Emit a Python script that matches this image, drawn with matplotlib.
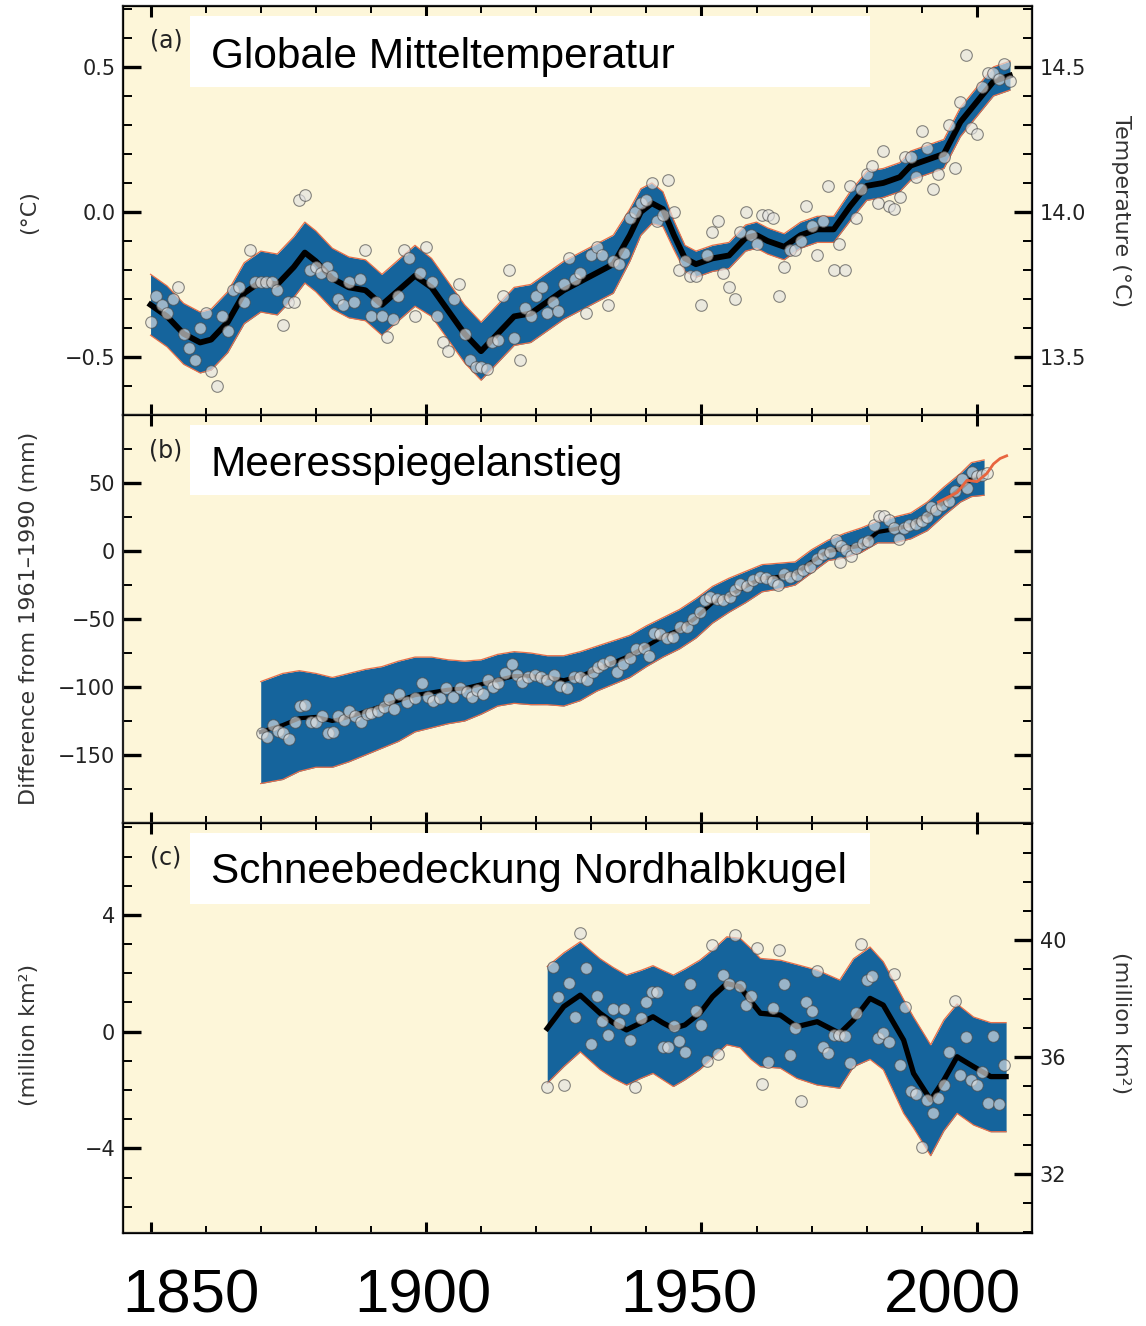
import numpy as np
import matplotlib
matplotlib.use('Agg')
import matplotlib.pyplot as plt
from matplotlib.ticker import MultipleLocator
from matplotlib.patches import Rectangle

plt.rcParams['font.family'] = ['DejaVu Sans']
plt.rcParams['axes.unicode_minus'] = True

# ---------------- (a) Globale Mitteltemperatur ----------------
temp_years = np.arange(1850, 2007)
temp_vals = [
    -0.38, -0.29, -0.32, -0.35, -0.30, -0.26, -0.42, -0.47, -0.51, -0.40,
    -0.35, -0.55, -0.60, -0.36, -0.41, -0.27, -0.26, -0.31, -0.13, -0.24,
    -0.24, -0.24, -0.24, -0.27, -0.39, -0.31, -0.31, 0.04, 0.06, -0.20,
    -0.19, -0.21, -0.19, -0.22, -0.30, -0.32, -0.24, -0.31, -0.23, -0.13,
    -0.36, -0.31, -0.36, -0.43, -0.37, -0.29, -0.13, -0.16, -0.36, -0.21,
    -0.12, -0.24, -0.36, -0.45, -0.48, -0.30, -0.25, -0.42, -0.51, -0.535,
    -0.535, -0.54, -0.45, -0.44, -0.29, -0.20, -0.435, -0.51, -0.33, -0.36,
    -0.29, -0.26, -0.35, -0.31, -0.34, -0.25, -0.16, -0.23, -0.21, -0.35,
    -0.15, -0.12, -0.15, -0.32, -0.17, -0.18, -0.14, -0.02, 0.00, 0.03,
    0.04, 0.10, -0.03, -0.01, 0.11, 0.00, -0.20, -0.17, -0.22, -0.22,
    -0.32, -0.15, -0.07, -0.03, -0.21, -0.26, -0.30, -0.07, 0.00, -0.08,
    -0.11, -0.01, -0.01, -0.02, -0.29, -0.19, -0.13, -0.13, -0.10, 0.02,
    -0.05, -0.15, -0.03, 0.09, -0.20, -0.11, -0.20, 0.09, -0.02, 0.08,
    0.13, 0.16, 0.03, 0.21, 0.02, 0.01, 0.05, 0.19, 0.19, 0.12,
    0.28, 0.22, 0.08, 0.13, 0.19, 0.30, 0.15, 0.38, 0.54, 0.29,
    0.27, 0.43, 0.48, 0.48, 0.46, 0.51, 0.45,
]
temp_smooth_years = [1850, 1853, 1856, 1859, 1861, 1864, 1867, 1870, 1873, 1876,
                     1878, 1880, 1883, 1886, 1889, 1892, 1895, 1898, 1901, 1904,
                     1907, 1910, 1913, 1916, 1919, 1922, 1925, 1928, 1931, 1934,
                     1937, 1939, 1941, 1943, 1945, 1947, 1949, 1952, 1955, 1958,
                     1960, 1962, 1965, 1968, 1971, 1974, 1977, 1980, 1983, 1986,
                     1988, 1991, 1994, 1997, 2000, 2003, 2006]
temp_smooth = [-0.32, -0.36, -0.42, -0.45, -0.44, -0.38, -0.28, -0.24, -0.25, -0.19,
               -0.14, -0.17, -0.23, -0.26, -0.27, -0.32, -0.27, -0.22, -0.26, -0.34,
               -0.42, -0.48, -0.42, -0.36, -0.35, -0.31, -0.27, -0.24, -0.21, -0.18,
               -0.08, 0.00, 0.03, 0.01, -0.08, -0.16, -0.18, -0.16, -0.15, -0.09,
               -0.08, -0.10, -0.12, -0.08, -0.06, -0.06, 0.02, 0.09, 0.10, 0.12,
               0.16, 0.18, 0.20, 0.31, 0.38, 0.45, 0.47]
temp_err = [0.105, 0.105, 0.105, 0.105, 0.105, 0.105, 0.105, 0.105, 0.105, 0.105,
            0.105, 0.105, 0.105, 0.105, 0.105, 0.105, 0.105, 0.105, 0.10, 0.10,
            0.10, 0.10, 0.10, 0.10, 0.10, 0.10, 0.10, 0.10, 0.10, 0.10,
            0.09, 0.08, 0.07, 0.06, 0.05, 0.045, 0.045, 0.045, 0.045, 0.045,
            0.045, 0.045, 0.045, 0.045, 0.045, 0.045, 0.05, 0.05, 0.05, 0.05,
            0.05, 0.05, 0.05, 0.05, 0.05, 0.05, 0.05]

# ---------------- (b) Meeresspiegelanstieg ----------------
sea_years = [1870.2, 1871.2, 1872.2, 1873.1, 1874.1, 1875.2, 1876.2, 1877.1, 1878.1, 1879.1,
             1880.1, 1881.2, 1882.3, 1883.2, 1884.1, 1885.2, 1886.1, 1887.1, 1888.2, 1889.2,
             1890.1, 1891.2, 1892.3, 1893.2, 1894.2, 1895.1,
             1896.5, 1898.0, 1899.2, 1900.4, 1901.3, 1902.5, 1903.7, 1904.9, 1906.1, 1907.4,
             1908.3, 1909.2, 1910.4, 1911.3, 1912.2, 1913.1, 1914.4, 1915.6, 1916.5, 1917.4,
             1918.6, 1919.8, 1920.8, 1922.0, 1923.2, 1924.4, 1925.6, 1926.8, 1928.0, 1929.2,
             1930.4, 1931.3, 1932.2, 1933.4, 1934.6, 1935.8, 1937.0, 1938.2, 1939.5, 1940.4,
             1941.3, 1942.5, 1943.7, 1944.9, 1946.1, 1947.3, 1948.5, 1949.7, 1950.6, 1951.5,
             1952.8, 1954.0, 1955.2, 1956.1, 1957.0, 1958.2, 1959.4, 1960.6, 1961.8, 1963.0,
             1963.9,
             1964.9, 1966.1, 1967.3, 1968.5, 1969.7, 1970.9, 1972.1, 1973.3, 1974.5, 1975.1,
             1975.4, 1976.3, 1977.2, 1978.1, 1979.3, 1980.2, 1981.4, 1982.3, 1983.2, 1984.1,
             1985.0, 1985.9, 1986.8, 1987.7, 1988.9, 1990.1, 1991.0, 1991.6, 1992.5, 1993.7,
             1994.9, 1996.1, 1997.3, 1998.2, 1999.1, 2000.0, 2000.9, 2001.8]
sea_vals = [-134, -137, -128, -132, -134, -138, -126, -114, -113, -126,
            -126, -121, -134, -133, -121, -124, -118, -121, -126, -120,
            -119, -118, -115, -109, -116, -105,
            -111, -108, -97, -107, -110, -108, -101, -107, -101, -104,
            -107, -102, -105, -95, -100, -97, -90, -83, -91, -96,
            -93, -91, -93, -95, -91, -99, -101, -93, -93, -95,
            -89, -85, -83, -81, -89, -83, -79, -72, -71, -77,
            -60, -61, -64, -63, -56, -56, -50, -45, -36, -34,
            -35, -36, -34, -29, -24, -26, -21, -19, -20, -22,
            -25,
            -17, -19, -18, -14, -12, -6, -2, -1, 8, -8,
            4, 1, -4, 2, 6, 7, 19, 26, 26, 23,
            17, 9, 17, 19, 20, 22, 25, 32, 30, 34,
            37, 44, 53, 46, 58, 55, 56, 57]
sea_smooth_years = [1870, 1874, 1877, 1880, 1883, 1886, 1889, 1892, 1895, 1898,
                    1901, 1904, 1907, 1910, 1913, 1916, 1919, 1922, 1925, 1928,
                    1931, 1934, 1937, 1940, 1943, 1946, 1949, 1952, 1955, 1958,
                    1961, 1964, 1967, 1970, 1973, 1976, 1979, 1982, 1985, 1988,
                    1991, 1994, 1997, 1999, 2001.3]
sea_smooth = [-133, -128, -123, -122, -125, -122, -118, -114, -110, -106,
              -104, -102, -101, -98, -95, -92, -92, -93, -95, -92,
              -87, -82, -77, -70, -63, -58, -49, -38, -33, -26,
              -20, -19, -17, -8, 0, 2, 4, 14, 16, 19,
              26, 36, 46, 53, 56]
sea_upper = [-96, -90, -88, -90, -93, -90, -87, -85, -81, -78,
             -78, -80, -81, -80, -76, -74, -75, -77, -77, -74,
             -70, -66, -62, -55, -49, -43, -35, -26, -20, -15,
             -10, -9, -8, 1, 8, 13, 17, 22, 25, 28,
             36, 47, 57, 65, 67]
sea_lower = [-171, -168, -162, -159, -159, -155, -150, -145, -140, -133,
             -130, -127, -125, -120, -114, -112, -113, -113, -114, -110,
             -103, -98, -93, -85, -78, -72, -64, -53, -45, -38,
             -30, -28, -25, -16, -7, -5, -1, 6, 6, 9,
             15, 26, 36, 40, 41]
sat_years = [1993.0, 1996.4, 1998.2, 2000.0, 2001.8, 2003.0, 2004.2, 2005.4]
sat_vals = [36, 43, 52, 51, 57, 64, 68, 70]

# ---------------- (c) Schneebedeckung Nordhalbkugel ----------------
snow_years = np.arange(1922, 2006)
snow_vals = [
    -1.88, 2.23, 1.20, -1.83, 1.66, 0.51, 3.37, 2.17, -0.42, 1.23,
    0.37, -0.11, 0.78, 0.29, 0.78, -0.28, -1.88, 0.46, 1.00, 1.37,
    1.37, -0.51, -0.54, 0.20, -0.31, -0.71, 1.62, 0.71, 0.23, -0.99,
    2.97, -0.77, 1.94, 1.62, 3.31, 1.57, 0.93, 1.22, 2.87, -1.80,
    -1.03, 0.80, 2.80, 1.63, -0.81, 0.12, -2.37, 1.00, 0.71, 2.08,
    -0.53, -0.74, -0.11, -0.11, -0.14, -1.06, 0.63, 3.00, 1.77, 1.92,
    -0.23, -0.06, -0.37, 1.99, -1.13, 0.85, -2.03, -2.13, -3.94, -2.34,
    -2.80, -2.28, -1.83, -0.71, 1.06, -1.48, -0.20, -1.66, -1.83, -1.37,
    -2.45, -0.14, -2.48, -1.13,
]
snow_smooth_years = [1922, 1925, 1928, 1931.6, 1934, 1936.4, 1939, 1941.2, 1943, 1944.9,
                     1947, 1949.7, 1952, 1954.6, 1957, 1959, 1960.7, 1964.3, 1967.3, 1971,
                     1975.1, 1977.6, 1980.6, 1983, 1986.7, 1988.5, 1991.6, 1994, 1996.4, 1999.4,
                     2002.5, 2005.3]
snow_smooth = [0.11, 0.86, 1.25, 0.63, 0.30, 0.06, 0.30, 0.51, 0.30, 0.11,
               0.23, 0.63, 1.20, 1.65, 1.54, 1.03, 0.63, 0.57, 0.17, 0.34,
               -0.06, 0.40, 1.14, 0.91, -0.29, -1.43, -2.34, -1.66, -0.86, -1.20,
               -1.54, -1.54]
snow_upper = [2.23, 2.70, 3.08, 2.50, 2.20, 1.94, 2.10, 2.26, 2.10, 1.94,
              2.15, 2.45, 2.80, 3.25, 3.20, 2.85, 2.51, 2.45, 2.30, 2.11,
              1.77, 2.50, 2.90, 2.40, 1.10, 0.50, -0.45, 0.40, 0.95, 0.50,
              0.31, 0.31]
snow_lower = [-1.77, -1.20, -0.69, -1.30, -1.60, -1.83, -1.60, -1.43, -1.65, -1.88,
              -1.65, -1.30, -0.90, -0.45, -0.55, -0.95, -1.20, -1.25, -1.60, -1.83,
              -1.94, -1.20, -0.95, -1.30, -2.80, -3.30, -4.25, -3.40, -2.80, -3.20,
              -3.43, -3.43]

panel_letters = ['(a)', '(b)', '(c)']
panel_titles = ['Globale Mitteltemperatur', 'Meeresspiegelanstieg',
                'Schneebedeckung Nordhalbkugel']
year_labels = ['1850', '1900', '1950', '2000']

BG = '#fdf6d9'
BAND = '#15649c'
EDGE = '#e8704a'
TXT = '#222222'

W, H = 1146, 1326
fig = plt.figure(figsize=(W / 100, H / 100), dpi=100)
fig.patch.set_facecolor('white')

left, right = 123 / W, 1032 / W
tops = [6, 415, 823]
bots = [415, 823, 1233]
axes = []
for t, b in zip(tops, bots):
    ax = fig.add_axes([left, 1 - b / H, right - left, (b - t) / H])
    axes.append(ax)


def style(ax):
    ax.set_facecolor(BG)
    ax.set_xlim(1845, 2010)
    ax.xaxis.set_major_locator(MultipleLocator(50))
    ax.xaxis.set_minor_locator(MultipleLocator(10))
    ax.tick_params(axis='x', which='both', direction='in', top=True, bottom=True,
                   labelbottom=False)
    ax.tick_params(axis='x', which='major', length=8, width=2.2)
    ax.tick_params(axis='x', which='minor', length=5, width=1.4)
    ax.tick_params(axis='y', which='both', direction='in', labelsize=15,
                   labelcolor=TXT, pad=5.5)
    ax.tick_params(axis='y', which='major', length=13, width=2.4)
    ax.tick_params(axis='y', which='minor', length=6.5, width=1.4)
    for s in ax.spines.values():
        s.set_linewidth(1.6)
        s.set_color('#222222')


def draw(ax, yr, val, kyr, kmid, lo, hi, lw):
    ax.fill_between(kyr, lo, hi, color=BAND, lw=0, zorder=2)
    ax.plot(kyr, hi, color=EDGE, lw=0.9, zorder=2.5)
    ax.plot(kyr, lo, color=EDGE, lw=0.9, zorder=2.5)
    ax.plot(kyr, kmid, color='black', lw=lw, zorder=3, solid_joinstyle='round')
    ax.scatter(yr, val, s=70, facecolor='#e2e2e2', edgecolor='#4a4a4a',
               linewidth=0.8, alpha=0.65, zorder=4)


# ---- panel (a)
ax = axes[0]
style(ax)
tm = np.array(temp_smooth)
te = np.array(temp_err)
draw(ax, temp_years, temp_vals, temp_smooth_years, tm, tm - te, tm + te, 4.2)
ax.set_ylim(-0.70, 0.71)
ax.set_yticks([-0.5, 0.0, 0.5])
ax.set_yticklabels(['\u22120.5', '0.0', '0.5'])
ax.yaxis.set_minor_locator(MultipleLocator(0.1))
tw = ax.twinx()
tw.set_ylim(-0.70 + 14.0, 0.71 + 14.0)
tw.set_yticks([13.5, 14.0, 14.5])
tw.set_yticklabels(['13.5', '14.0', '14.5'])
tw.yaxis.set_minor_locator(MultipleLocator(0.1))
tw.tick_params(axis='y', which='both', direction='in', labelsize=15,
               labelcolor=TXT, pad=5.5)
tw.tick_params(axis='y', which='major', length=13, width=2.4)
tw.tick_params(axis='y', which='minor', length=6.5, width=1.4)

# ---- panel (b)
ax = axes[1]
style(ax)
draw(ax, sea_years, sea_vals, sea_smooth_years, sea_smooth, sea_lower, sea_upper, 3.0)
ax.plot(sat_years, sat_vals, color='#e8653f', lw=2.0, zorder=5)
ax.set_ylim(-200, 100)
ax.set_yticks([-150, -100, -50, 0, 50])
ax.set_yticklabels(['\u2212150', '\u2212100', '\u221250', '0', '50'])
ax.yaxis.set_minor_locator(MultipleLocator(25))
ax.tick_params(axis='y', which='both', left=True, right=True)

# ---- panel (c)
ax = axes[2]
style(ax)
draw(ax, snow_years, snow_vals, snow_smooth_years, snow_smooth, snow_lower, snow_upper, 3.8)
ax.set_ylim(-6.9, 7.15)
ax.set_yticks([-4, 0, 4])
ax.set_yticklabels(['\u22124', '0', '4'])
ax.yaxis.set_minor_locator(MultipleLocator(1))
tw = ax.twinx()
tw.set_ylim(-6.9 + 36.87, 7.15 + 36.87)
tw.set_yticks([32, 36, 40])
tw.set_yticklabels(['32', '36', '40'])
tw.yaxis.set_minor_locator(MultipleLocator(1))
tw.tick_params(axis='y', which='both', direction='in', labelsize=15,
               labelcolor=TXT, pad=5.5)
tw.tick_params(axis='y', which='major', length=13, width=2.4)
tw.tick_params(axis='y', which='minor', length=6.5, width=1.4)

# panel letters and white title boxes
letter_y = [0.9156, 0.913, 0.916]
title_y = [0.8477, 0.851, 0.853]
for ax, letter, title, ly, ty in zip(axes, panel_letters, panel_titles, letter_y, title_y):
    ax.text(0.0473, ly, letter, transform=ax.transAxes, ha='center', va='center',
            fontsize=17, color=TXT, zorder=6)
    ax.add_patch(Rectangle((0.0737, 0.803), 0.748, 0.172, transform=ax.transAxes,
                           facecolor='white', edgecolor='none', zorder=6))
    ax.text(0.0965, ty, title, transform=ax.transAxes, ha='left', va='baseline',
            fontsize=30.5, family='Liberation Sans', color='black', zorder=7)

# axis titles
lab = dict(fontsize=16, color='#333333', ha='center', va='center')
fig.text(29 / W, 1 - 212.5 / H, '(°C)', rotation=90, **lab)
fig.text(29 / W, 1 - 618 / H, 'Difference from 1961\u20131990 (mm)', rotation=90, **lab)
fig.text(29 / W, 1 - 1035 / H, '(million km\u00b2)', rotation=90, **lab)
fig.text(1121 / W, 1 - 211.5 / H, 'Temperature (°C)', rotation=270, **lab)
fig.text(1121 / W, 1 - 1023 / H, '(million km\u00b2)', rotation=270, **lab)

# large year labels below the panels
for lbl, xc in zip(year_labels, [190.5, 422.5, 688.5, 952.5]):
    fig.text(xc / W, 1 - 1312.7 / H, lbl, ha='center', va='baseline',
             fontsize=44.5, family='Liberation Sans', color='black')

fig.savefig('out.png', dpi=100, facecolor='white')
